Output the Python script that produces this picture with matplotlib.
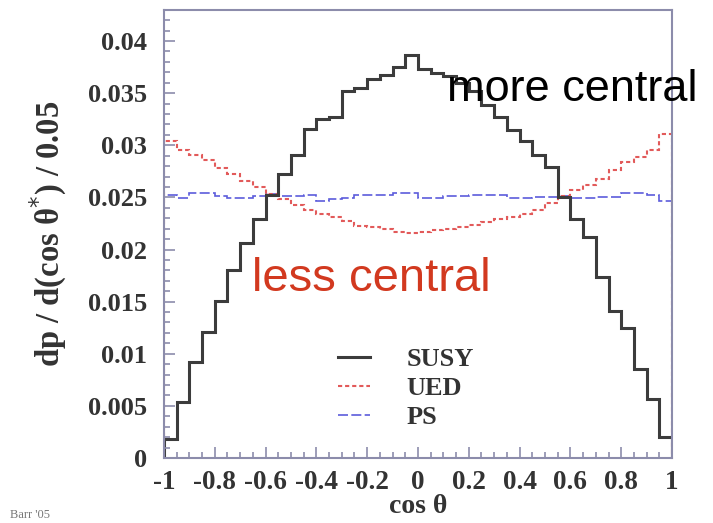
import numpy as np
import matplotlib
matplotlib.use("Agg")
import matplotlib.pyplot as plt
from matplotlib.lines import Line2D
from matplotlib.ticker import MultipleLocator, FuncFormatter

# 40 bins in cos(theta) from -1 to 1, width 0.05
bin_edges = np.linspace(-1, 1, 41)

susy = [0.0018, 0.0054, 0.0092, 0.0121, 0.0151, 0.0180, 0.0206, 0.0229, 0.0252, 0.0272,
        0.0291, 0.0316, 0.0325, 0.0327, 0.0352, 0.0355, 0.0364, 0.0367, 0.0375, 0.0387,
        0.0373, 0.0369, 0.0366, 0.0360, 0.0352, 0.0339, 0.0327, 0.0315, 0.0304, 0.0291,
        0.0279, 0.0250, 0.0229, 0.0212, 0.0174, 0.0141, 0.0125, 0.0085, 0.0057, 0.0020]

ued = [0.0304, 0.0295, 0.0291, 0.0286, 0.0278, 0.0272, 0.0266, 0.0260, 0.0253, 0.0248,
       0.0243, 0.0238, 0.0234, 0.0231, 0.0227, 0.0223, 0.0222, 0.0220, 0.0217, 0.0216,
       0.0217, 0.0219, 0.0220, 0.0222, 0.0224, 0.0226, 0.0229, 0.0231, 0.0234, 0.0238,
       0.0245, 0.0251, 0.0257, 0.0262, 0.0268, 0.0276, 0.0284, 0.0289, 0.0295, 0.0311]

ps = [0.0252, 0.0249, 0.0254, 0.0254, 0.0251, 0.0249, 0.0249, 0.0251, 0.0253, 0.0251,
      0.0251, 0.0252, 0.0247, 0.0248, 0.0249, 0.0252, 0.0252, 0.0252, 0.0254, 0.0254,
      0.0249, 0.0249, 0.0251, 0.0251, 0.0252, 0.0252, 0.0252, 0.0249, 0.0249, 0.0250,
      0.0250, 0.0251, 0.0249, 0.0249, 0.0250, 0.0250, 0.0254, 0.0254, 0.0252, 0.0247]

labels = ["SUSY", "UED", "PS"]

serif = "Liberation Serif"
frame_color = "#8c8cab"
text_color = "#333333"

fig = plt.figure(figsize=(7.13, 5.23), dpi=100)
ax = fig.add_axes([0.230, 0.1243, 0.7125, 0.857])

susy_style = dict(color="#3c3c3c", linewidth=2.2)
ued_style = dict(color="#e25a5a", linewidth=1.5, linestyle=(0, (2, 1.4)))
ps_style = dict(color="#5c5cdc", linewidth=1.2, linestyle=(0, (6, 2)))

ax.stairs(ps, bin_edges, baseline=0, **ps_style)
ax.stairs(ued, bin_edges, baseline=0, **ued_style)
ax.stairs(susy, bin_edges, baseline=0, **susy_style)

ax.set_xlim(-1, 1)
ax.set_ylim(0, 0.043)

ax.xaxis.set_major_locator(MultipleLocator(0.2))
ax.xaxis.set_minor_locator(MultipleLocator(0.05))
ax.yaxis.set_major_locator(MultipleLocator(0.005))
ax.yaxis.set_minor_locator(MultipleLocator(0.001))
fmt = FuncFormatter(lambda v, pos: "%g" % round(v, 4))
ax.xaxis.set_major_formatter(fmt)
ax.yaxis.set_major_formatter(fmt)

ax.tick_params(which="both", direction="in", color=frame_color, width=1.2)
ax.tick_params(which="major", length=8)
ax.tick_params(which="minor", length=4)
ax.tick_params(axis="x", pad=9)
ax.tick_params(axis="y", pad=12)
for lab in ax.get_xticklabels():
    lab.set_fontsize(19.5)
for lab in ax.get_yticklabels():
    lab.set_fontsize(19)
for lab in ax.get_xticklabels() + ax.get_yticklabels():
    lab.set_fontfamily(serif)
    lab.set_fontweight("bold")
    lab.set_color(text_color)

for sp in ax.spines.values():
    sp.set_color(frame_color)
    sp.set_linewidth(1.5)

ax.set_xlabel("cos θ", fontfamily=serif, fontweight="bold", fontsize=20,
              color=text_color, labelpad=-1)
ax.set_ylabel("dp / d(cos θ$^{*}$) / 0.05", fontfamily=serif, fontweight="bold",
              fontsize=23.5, color=text_color, labelpad=14)

handles = [Line2D([], [], **susy_style),
           Line2D([], [], **ued_style),
           Line2D([], [], **ps_style)]
leg = ax.legend(handles, labels, loc="upper left",
                bbox_to_anchor=(338 / 713, 1 - 348 / 523), bbox_transform=fig.transFigure,
                frameon=False, borderpad=0, borderaxespad=0,
                handlelength=1.2, handletextpad=1.4, labelspacing=0.2,
                prop=dict(family=serif, weight="bold", size=19))
for t in leg.get_texts():
    t.set_color(text_color)

fig.text(447 / 713, 1 - 101 / 523, "more central", fontfamily="Liberation Sans",
         fontsize=32.5, color="black", va="baseline")
fig.text(252 / 713, 1 - 291 / 523, "less central", fontfamily="Liberation Sans",
         fontsize=34, color="#d2391f", va="baseline")
fig.text(10 / 713, 1 - 518 / 523, "Barr '05", fontfamily=serif, fontsize=9,
         color="#777777", va="baseline")

fig.savefig("out.png", dpi=100)
